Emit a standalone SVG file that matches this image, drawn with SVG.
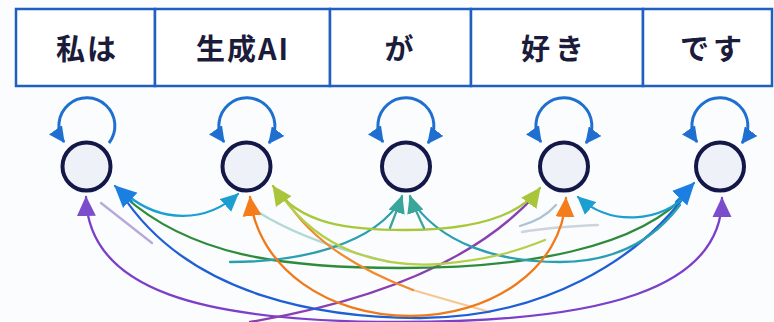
<svg xmlns="http://www.w3.org/2000/svg" width="774" height="322" viewBox="0 0 774 322">
<style>
.cell{fill:#ffffff;stroke:#1f5fc0;stroke-width:2.5}
.lbl{font-family:"Noto Sans CJK JP","Noto Sans",sans-serif;font-weight:bold;font-size:29px;fill:#1b1b3a;text-anchor:middle;letter-spacing:2px}
.node{fill:#eef2f8;stroke:#141848;stroke-width:4}
.loop{fill:none;stroke:#1e6fd0;stroke-width:3}
.c{fill:none;stroke-width:2.3;stroke-linecap:round}
</style>
<defs>
<marker id="aLoop" markerUnits="userSpaceOnUse" markerWidth="16" markerHeight="16" refX="13" refY="7" orient="auto-start-reverse" viewBox="0 0 14 14"><path d="M0,0 L14,7 L0,14 z" fill="#1e6fd0"/></marker>
<marker id="aBlueBig" markerUnits="userSpaceOnUse" markerWidth="22" markerHeight="22" refX="20" refY="10" orient="auto-start-reverse" viewBox="0 0 21 20"><path d="M0,0 L21,10 L0,20 z" fill="#1a7fe0"/></marker>
<marker id="aCyan" markerUnits="userSpaceOnUse" markerWidth="18" markerHeight="18" refX="16" refY="8" orient="auto-start-reverse" viewBox="0 0 17 16"><path d="M0,0 L17,8 L0,16 z" fill="#1a9fd0"/></marker>
<marker id="aOrange" markerUnits="userSpaceOnUse" markerWidth="20" markerHeight="20" refX="18" refY="9" orient="auto-start-reverse" viewBox="0 0 19 18"><path d="M0,0 L19,9 L0,18 z" fill="#f57c1a"/></marker>
<marker id="aYG" markerUnits="userSpaceOnUse" markerWidth="20" markerHeight="20" refX="18" refY="9" orient="auto-start-reverse" viewBox="0 0 19 18"><path d="M0,0 L19,9 L0,18 z" fill="#a9c63a"/></marker>
<marker id="aPurple" markerUnits="userSpaceOnUse" markerWidth="20" markerHeight="20" refX="18" refY="9" orient="auto-start-reverse" viewBox="0 0 19 18"><path d="M0,0 L19,9 L0,18 z" fill="#7b4ccc"/></marker>
<marker id="aTeal" markerUnits="userSpaceOnUse" markerWidth="18" markerHeight="18" refX="16" refY="8" orient="auto-start-reverse" viewBox="0 0 17 16"><path d="M0,0 L17,8 L0,16 z" fill="#3aa59a"/></marker>
</defs>
<rect width="774" height="322" fill="#fbfcfe"/>
<g id="table">
<rect class="cell" x="16" y="9" width="139" height="77"/>
<rect class="cell" x="155" y="9" width="175" height="77"/>
<rect class="cell" x="330" y="9" width="141" height="77"/>
<rect class="cell" x="471" y="9" width="172" height="77"/>
<rect class="cell" x="643" y="9" width="129" height="77"/>
<text class="lbl" x="87" y="60">私は</text>
<text class="lbl" x="243" y="60">生成AI</text>
<text class="lbl" x="400" y="60">が</text>
<text class="lbl" x="555" y="60" style="letter-spacing:5px">好き</text>
<text class="lbl" x="713" y="60" style="letter-spacing:4px">です</text>
</g>
<g id="connectors">
<path class="c" d="M101,203 L152,243" stroke="#9a86c8" stroke-opacity="0.7"/>
<path class="c" d="M258,212 C290,232 330,248 390,262" stroke="#9fd0cc" stroke-opacity="0.8"/>
<path class="c" d="M522,232 C545,228 575,226 598,225" stroke="#b8c4cc" stroke-opacity="0.7"/>
<path class="c" d="M520,226 C535,222 548,214 556,205" stroke="#7a9ab8" stroke-opacity="0.6"/>
<path class="c" d="M413,290 C440,298 465,305 490,312" stroke="#f5b97a" stroke-opacity="0.8"/>
<path class="c" d="M86,197 C88,290 200,322 400,322 C600,322 722,290 722,198" stroke="#7b3fc8" marker-start="url(#aPurple)" marker-end="url(#aPurple)"/>
<path class="c" d="M250,322 C380,300 480,258 538,192" stroke="#8a3fb0"/>
<path class="c" d="M121,193 C190,300 330,318 420,318 C540,318 640,262 692,186" stroke="#1f5fd6"/>
<path class="c" d="M124,196 C190,255 280,268 400,268 C520,268 640,250 690,190" stroke="#2e8b3a"/>
<path class="c" d="M402,198 C375,245 300,262 230,262" stroke="#2a9fb0"/>
<path class="c" d="M410,198 C440,245 500,262 560,262 C610,262 650,245 680,205" stroke="#2a9fb0"/>
<path class="c" d="M285,198 C310,240 360,270 413,290" stroke="#f08a2a"/>
<path class="c" d="M282,196 C320,250 380,268 440,264 C490,260 520,250 545,240" stroke="#b5cf4a"/>
<path class="c" d="M250,197 C258,270 330,316 410,316 C490,316 562,270 566,198" stroke="#f07a1a" marker-start="url(#aOrange)" marker-end="url(#aOrange)"/>
<path class="c" d="M273,186 C300,225 350,230 405,230 C460,230 515,222 540,188" stroke="#a8c83a" marker-start="url(#aYG)" marker-end="url(#aYG)"/>
<path class="c" d="M127,195 C160,222 205,224 238,194" stroke="#1a9fd0" marker-end="url(#aCyan)"/>
<path class="c" d="M578,197 C610,226 660,224 690,192" stroke="#1a9fd0" marker-start="url(#aCyan)"/>
<path class="c" d="M390,228 C395,215 399,205 402,196" stroke="#3aa59a" marker-end="url(#aTeal)"/>
<path class="c" d="M424,228 C418,215 413,205 410,196" stroke="#3aa59a" marker-end="url(#aTeal)"/>
<path class="c" d="M132,202 L115,186" stroke="#1a7fe0" marker-end="url(#aBlueBig)"/>
<path class="c" d="M676,202 L694,183" stroke="#1a7fe0" marker-end="url(#aBlueBig)"/>
</g>
<g id="n1"><circle class="node" cx="86.5" cy="166.5" r="24"/><path class="loop" d="M109,143 A28,28 0 1 0 64,142" marker-end="url(#aLoop)"/></g>
<g id="n2"><circle class="node" cx="246.5" cy="166.5" r="24"/><path class="loop" d="M269,143 A28,28 0 1 0 224,142" marker-start="url(#aLoop)" marker-end="url(#aLoop)"/></g>
<g id="n3"><circle class="node" cx="406" cy="166.5" r="24"/><path class="loop" d="M428,143 A28,28 0 1 0 383,142" marker-start="url(#aLoop)" marker-end="url(#aLoop)"/></g>
<g id="n4"><circle class="node" cx="564" cy="166.5" r="24"/><path class="loop" d="M586,143 A28,28 0 1 0 541,142" marker-start="url(#aLoop)" marker-end="url(#aLoop)"/></g>
<g id="n5"><circle class="node" cx="720" cy="166.5" r="24"/><path class="loop" d="M742,143 A28,28 0 1 0 697,142" marker-start="url(#aLoop)" marker-end="url(#aLoop)"/></g>
</svg>
